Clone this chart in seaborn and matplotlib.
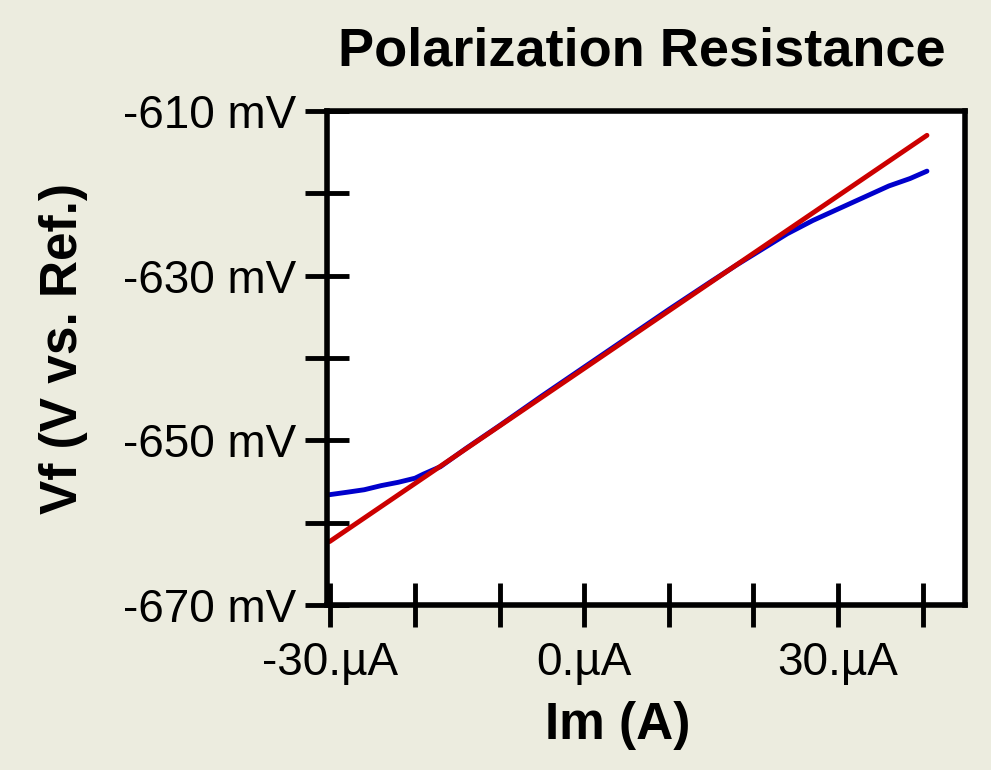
import seaborn as sns
import matplotlib.pyplot as plt
import numpy as np, pandas as pd
from matplotlib.ticker import MultipleLocator, FuncFormatter

# measured curve (current in uA, potential in mV)
meas_i = [-30.1, -28, -26, -24, -22, -20, -19, -17, -14, -10, -5, 0, 5, 10,
          15, 18, 21, 24, 27, 30, 33, 36, 38.5, 40.5]
meas_v = [-656.6, -656.3, -656.0, -655.5, -655.1, -654.6, -654.1, -653.2,
          -651.0, -648.2, -644.6, -641.1, -637.6, -634.1, -630.7, -628.7,
          -626.8, -624.9, -623.3, -621.9, -620.5, -619.1, -618.2, -617.3]
# linear fit
fit_i = [-30.1, 40.5]
fit_v = [-662.3, -612.95]

title = "Polarization Resistance"
xlab = "Im (A)"
ylab = "Vf (V vs. Ref.)"
y_labels = [-610, -630, -650, -670]
x_labels = [-30, 0, 30]

bg = "#ECECDF"

sns.set_style("ticks")
plt.rcParams['font.family'] = ['Liberation Sans', 'DejaVu Sans']
plt.rcParams['text.color'] = 'black'
plt.rcParams['xtick.labelcolor'] = 'black'
plt.rcParams['ytick.labelcolor'] = 'black'
plt.rcParams['axes.labelcolor'] = 'black'

frame = pd.concat([
    pd.DataFrame({"I": meas_i, "V": meas_v, "s": "meas"}),
    pd.DataFrame({"I": fit_i, "V": fit_v, "s": "fit"}),
])

fig = plt.figure(figsize=(9.91, 7.70), dpi=100, facecolor=bg)
ax = fig.add_axes([0.330, 0.2143, 0.6438, 0.6415])
ax.set_facecolor("white")

sns.lineplot(data=frame, x="I", y="V", hue="s", palette={"meas": "#0000CC", "fit": "#CC0000"},
             linewidth=3.5, sort=False, legend=False, ax=ax)

ax.set_xlim(-30.4, 45)
ax.set_ylim(-670, -610)

ax.xaxis.set_major_locator(MultipleLocator(10))
ax.yaxis.set_major_locator(MultipleLocator(10))
ax.xaxis.set_major_formatter(FuncFormatter(lambda v, p: "%d.\u00b5A" % round(v) if round(v) in x_labels else ""))
ax.yaxis.set_major_formatter(FuncFormatter(lambda v, p: "%d mV" % round(v) if round(v) in y_labels else ""))
ax.tick_params(axis="both", direction="inout", length=32, width=3.5, color="black",
               labelsize=33, labelcolor="black", pad=6)
ax.tick_params(axis="x", pad=10)
for s in ax.spines.values():
    s.set_linewidth(4)
    s.set_color("black")

ax.set_xlabel(xlab, fontsize=37, fontweight="bold", color="black")
ax.xaxis.set_label_coords(0.456, -0.195)
ax.set_ylabel(ylab, fontsize=37, fontweight="bold", color="black")
ax.yaxis.set_label_coords(-0.375, 0.52)

fig.text(642 / 991, 1 - 52 / 770, title, ha="center", va="center", fontsize=39,
         fontweight="bold", color="black")

plt.savefig("out.png", dpi=100, facecolor=fig.get_facecolor())
plt.close()
